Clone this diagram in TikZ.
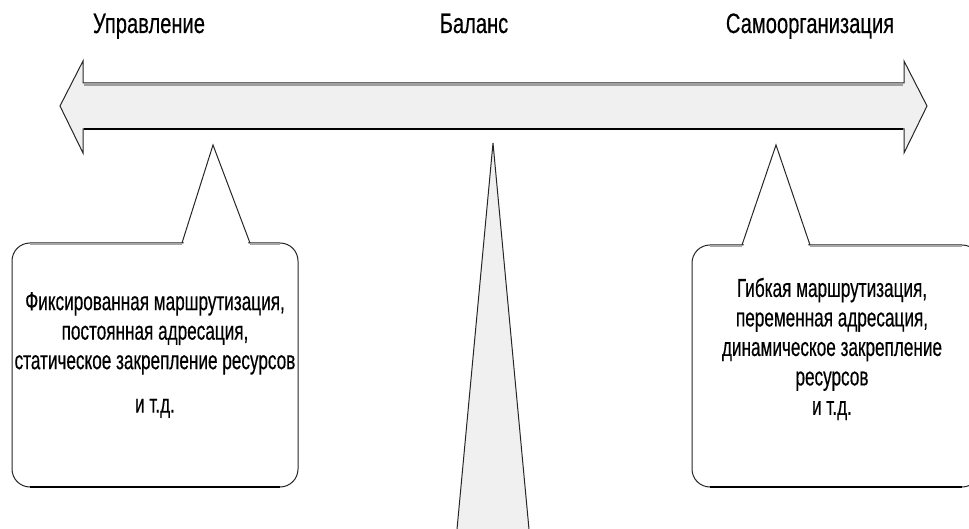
\documentclass[tikz,border=0pt]{standalone}
\usepackage{fontspec}
\newfontfamily\narrowsans[FakeStretch=0.66,FakeBold=0.4]{Liberation Sans}
\newfontfamily\titlesans[FakeStretch=0.72,FakeBold=0.3]{Liberation Sans}
\definecolor{barfill}{HTML}{F0F0F0}
\begin{document}
\begin{tikzpicture}[x=1pt,y=-1pt,
  outline/.style={draw=black!85, line width=1pt, line join=miter},
  bar/.style={outline, fill=barfill},
  bubble/.style={outline, fill=white, rounded corners=18pt},
  title/.style={font=\titlesans\fontsize{28}{30}\selectfont, anchor=base, inner sep=0pt},
  bodytext/.style={font=\narrowsans\fontsize{26}{29.5}\selectfont, align=center, inner sep=0pt}]
\useasboundingbox (0,0) rectangle (969,529);
\clip (0,0) rectangle (969,529);

% double-headed bar
\coordinate (tipL) at (60,106);
\coordinate (tipR) at (927,106);
\draw[bar] (tipL) -- (83,61) -- (83,83) -- (904,83) -- (904,61) -- (tipR)
  -- (904,153) -- (904,129) -- (83,129) -- (83,153) -- cycle;
\draw[gray!75, line width=2.6pt] (84,84.8) -- (903,84.8);
\draw[black, line width=1.8pt] (84,129) -- (903,129);

% fulcrum
\coordinate (pivot) at (493,143);
\draw[bar] (pivot) -- (456,540) -- (530,540) -- cycle;

% left callout
\draw[bubble] (12,243) rectangle (298,487);
\draw[gray!70, line width=2pt] (30,244.2) -- (182,244.2) (250,244.2) -- (280,244.2);
\draw[black, line width=2.4pt] (30,487) -- (280,487);
\coordinate (ptrL) at (213,145);
\fill[white] (183,245.5) -- (ptrL) -- (249,245.5) -- cycle;
\draw[outline] (182,243) -- (ptrL) -- (250,243);

% right callout
\draw[bubble] (692,245) rectangle (980,487);
\draw[gray!70, line width=2pt] (710,246.2) -- (742,246.2) (810,246.2) -- (962,246.2);
\draw[black, line width=2.4pt] (710,487) -- (962,487);
\coordinate (ptrR) at (776,145);
\fill[white] (743,247.5) -- (ptrR) -- (809,247.5) -- cycle;
\draw[outline] (742,245) -- (ptrR) -- (810,245);

% labels
\node[title] (ctrl) at (149,33) {Управление};
\node[title] (bal) at (474,33) {Баланс};
\node[title] (self) at (810,33) {Самоорганизация};

\node[bodytext] (leftnote) at (155,355)
  {Фиксированная маршрутизация,\\ постоянная адресация,\\ статическое закрепление ресурсов\\[14pt] и т.д.};
\node[bodytext] (rightnote) at (832,349)
  {Гибкая маршрутизация,\\ переменная адресация,\\ динамическое закрепление\\ ресурсов\\ и т.д.};
\end{tikzpicture}
\end{document}
